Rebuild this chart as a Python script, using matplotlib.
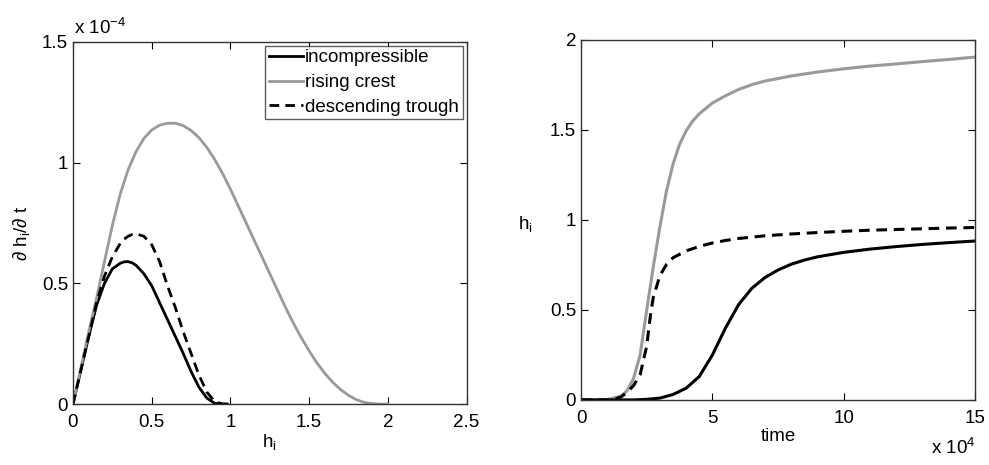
import matplotlib
matplotlib.use("Agg")
import matplotlib.pyplot as plt

plt.rcParams['font.family'] = ['Liberation Sans', 'DejaVu Sans']
plt.rcParams['mathtext.fontset'] = 'custom'
plt.rcParams['mathtext.rm'] = 'Liberation Sans'
plt.rcParams['mathtext.it'] = 'Liberation Sans:italic'
plt.rcParams['mathtext.sf'] = 'Liberation Sans'

# ---- left panel: growth rate vs h_i (values in units of 1e-4) ----
h_gray = [0, 0.05, 0.10, 0.15, 0.20, 0.25, 0.30, 0.35, 0.40, 0.45, 0.50, 0.55, 0.60,
          0.65, 0.70, 0.75, 0.80, 0.85, 0.90, 0.95, 1.00, 1.05, 1.10, 1.15, 1.20, 1.25,
          1.30, 1.35, 1.40, 1.45, 1.50, 1.55, 1.60, 1.65, 1.70, 1.75, 1.80, 1.85, 1.90,
          1.95, 2.00]
rate_rising = [0, 0.15, 0.30, 0.44, 0.59, 0.74, 0.87, 0.97, 1.045, 1.10, 1.135, 1.155, 1.163,
               1.163, 1.153, 1.133, 1.103, 1.063, 1.013, 0.955, 0.89, 0.82, 0.75, 0.68, 0.61,
               0.54, 0.47, 0.40, 0.335, 0.275, 0.22, 0.17, 0.127, 0.09, 0.06, 0.036, 0.018,
               0.007, 0.002, 0, 0]

h_small = [0, 0.05, 0.10, 0.15, 0.20, 0.25, 0.30, 0.325, 0.35, 0.375, 0.40, 0.45, 0.50, 0.55,
           0.60, 0.65, 0.70, 0.75, 0.80, 0.85, 0.90, 0.95, 0.98]
rate_incomp = [0, 0.14, 0.28, 0.41, 0.50, 0.56, 0.583, 0.589, 0.59, 0.585, 0.575, 0.54, 0.49,
               0.42, 0.35, 0.28, 0.21, 0.135, 0.07, 0.025, 0.003, 0, 0]
rate_desc = [0, 0.14, 0.28, 0.42, 0.53, 0.61, 0.665, 0.683, 0.695, 0.702, 0.705, 0.695, 0.66,
             0.59, 0.49, 0.40, 0.30, 0.21, 0.12, 0.05, 0.01, 0, 0]

# ---- right panel: h_i vs time (time in units of 1e4) ----
t_gray = [0, 0.5, 1.0, 1.5, 1.75, 2.0, 2.25, 2.5, 2.75, 3.0, 3.25, 3.5, 3.75, 4.0, 4.25, 4.5,
          5.0, 5.5, 6.0, 6.5, 7.0, 8.0, 9.0, 10.0, 11.0, 12.0, 13.0, 14.0, 15.0]
hi_rising = [0, 0, 0.002, 0.02, 0.05, 0.12, 0.25, 0.50, 0.74, 0.96, 1.16, 1.31, 1.42, 1.495,
             1.55, 1.59, 1.65, 1.69, 1.725, 1.752, 1.772, 1.80, 1.822, 1.84, 1.855, 1.867,
             1.880, 1.892, 1.905]

t_desc = [0, 1.0, 1.25, 1.5, 1.75, 2.0, 2.25, 2.5, 2.65, 2.75, 3.0, 3.25, 3.5, 4.0, 4.5, 5.0,
          5.5, 6.0, 7.0, 8.0, 9.0, 10.0, 11.0, 12.0, 13.0, 14.0, 15.0]
hi_desc = [0, 0, 0.003, 0.015, 0.04, 0.08, 0.14, 0.30, 0.48, 0.57, 0.69, 0.752, 0.79, 0.828,
           0.853, 0.872, 0.886, 0.897, 0.912, 0.922, 0.930, 0.937, 0.943, 0.947, 0.951, 0.955,
           0.958]

t_inc = [0, 1.0, 2.0, 2.5, 3.0, 3.5, 4.0, 4.5, 5.0, 5.5, 6.0, 6.5, 7.0, 7.5, 8.0, 8.5, 9.0,
         10.0, 11.0, 12.0, 13.0, 14.0, 15.0]
hi_incomp = [0, 0, 0.0, 0.003, 0.01, 0.03, 0.065, 0.13, 0.25, 0.40, 0.53, 0.62, 0.68, 0.722,
             0.754, 0.777, 0.795, 0.82, 0.838, 0.852, 0.864, 0.874, 0.883]

legend_labels = ['incompressible', 'rising crest', 'descending trough']

GRAY = '#9a9a9a'
FS = 13.5

fig = plt.figure(figsize=(9.89, 4.65), dpi=100)
ax1 = fig.add_axes([0.0738, 0.131, 0.398, 0.779])
ax2 = fig.add_axes([0.5875, 0.140, 0.3985, 0.774])

for ax in (ax1, ax2):
    ax.tick_params(direction='in', top=True, right=True, length=5, width=0.8,
                   labelsize=FS, colors='black')
    ax.tick_params(axis='x', pad=7)
    ax.tick_params(axis='y', pad=3.5)
    for s in ax.spines.values():
        s.set_linewidth(1.0)
        s.set_color('#333333')

ax1.plot(h_small, rate_incomp, color='black', lw=2.0, label=legend_labels[0])
ax1.plot(h_gray, rate_rising, color=GRAY, lw=2.0, label=legend_labels[1])
ax1.plot(h_small, rate_desc, color='black', lw=2.0, ls=(0, (3.5, 2.2)), label=legend_labels[2])
ax1.set_xlim(0, 2.5)
ax1.set_ylim(0, 1.5)
ax1.set_xticks([0, 0.5, 1, 1.5, 2, 2.5])
ax1.set_xticklabels(['0', '0.5', '1', '1.5', '2', '2.5'])
ax1.set_yticks([0, 0.5, 1, 1.5])
ax1.set_yticklabels(['0', '0.5', '1', '1.5'])
ax1.set_xlabel(r'h$_\mathregular{i}$', fontsize=FS, labelpad=1)
ax1.set_ylabel('\u2202 h$_\\mathregular{i}$/\u2202 t', fontsize=FS)
ax1.yaxis.set_label_coords(-0.105, 0.47)
ax1.text(0.003, 1.012, r'x 10$^{-4}$', transform=ax1.transAxes, fontsize=FS,
         ha='left', va='bottom')
leg = ax1.legend(loc='upper right', fontsize=FS, handlelength=1.85, handletextpad=0.1,
                 borderpad=0.2, labelspacing=0.4, frameon=True, fancybox=False,
                 borderaxespad=0.2)
leg.get_frame().set_edgecolor('#333333')
leg.get_frame().set_linewidth(1.0)

ax2.plot(t_gray, hi_rising, color=GRAY, lw=2.2)
ax2.plot(t_desc, hi_desc, color='black', lw=2.2, ls=(0, (3.5, 2.2)))
ax2.plot(t_inc, hi_incomp, color='black', lw=2.2)
ax2.set_xlim(0, 15)
ax2.set_ylim(0, 2)
ax2.set_xticks([0, 5, 10, 15])
ax2.set_xticklabels(['0', '5', '10', '15'])
ax2.set_yticks([0, 0.5, 1, 1.5, 2])
ax2.set_yticklabels(['0', '0.5', '1', '1.5', '2'])
ax2.set_xlabel('time', fontsize=FS, labelpad=1)
ax2.set_ylabel(r'h$_\mathregular{i}$', fontsize=FS, rotation=0, ha='right', va='center')
ax2.yaxis.set_label_coords(-0.122, 0.49)
ax2.text(1.0, -0.105, r'x 10$^{4}$', transform=ax2.transAxes, fontsize=FS,
         ha='right', va='top')

fig.savefig('out.png', dpi=100)
